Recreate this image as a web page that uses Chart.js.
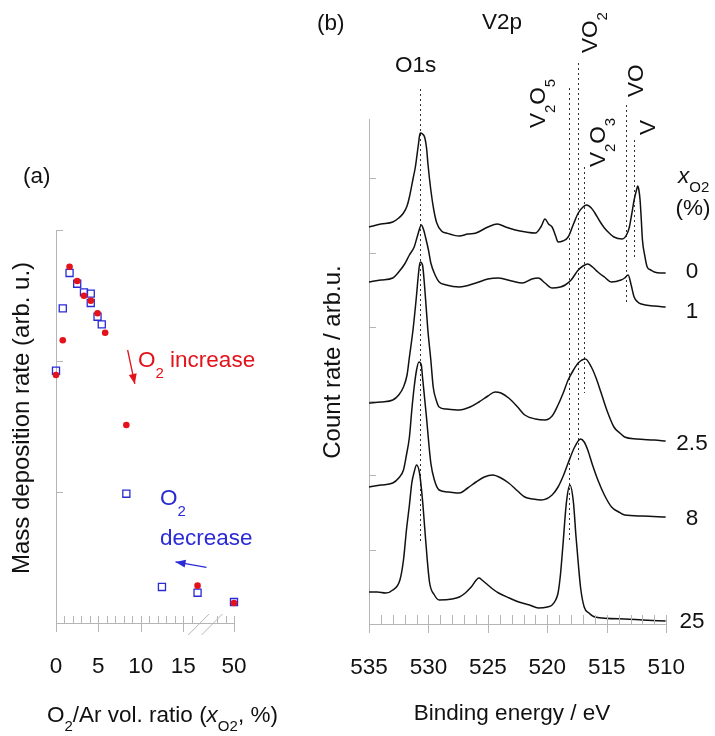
<!DOCTYPE html>
<html><head><meta charset="utf-8">
<script src="https://cdn.jsdelivr.net/npm/chart.js@4.4.1/dist/chart.umd.min.js"></script>
<style>
html,body{margin:0;padding:0;background:#fff;width:715px;height:736px;overflow:hidden}
canvas{position:absolute;top:0}
</style></head>
<body>
<canvas id="ca" width="300" height="736" style="left:0px"></canvas>
<canvas id="cb" width="415" height="736" style="left:300px"></canvas>
<script>
// ---------- panel (a): mass deposition rate ----------
const incX = [0, 0.8, 1.6, 2.5, 3.3, 4.1, 4.9, 5.8, 8.3, 16.7, 21];
const incY = [1.893, 2.158, 2.72, 2.611, 2.498, 2.46, 2.364, 2.216, 1.511, 0.285, 0.153];
const decX = [0, 0.8, 1.6, 2.5, 3.3, 4.1, 4.1, 4.9, 5.4, 8.3, 12.5, 16.7, 21];
const decY = [1.926, 2.402, 2.672, 2.590, 2.524, 2.514, 2.443, 2.338, 2.28, 0.987, 0.275, 0.231, 0.160];
const aTickValues = [0, 5, 10, 15, 21];
const aTickLabels = ['0', '5', '10', '15', '50'];
const aMinorTicks = [0,1,2,3,4,5,6,7,8,9,10,11,12,13,14,15,16,19,20,21];
const aYTicks = [1, 2, 3];

// ---------- panel (b): XPS spectra [binding energy eV, count rate arb.u.] ----------
const spec0 = [[535.0,397],[534.0,400],[533.0,402],[532.5,406],[532.1,411],[531.8,418],[531.6,427],[531.3,445],[531.1,457],[530.85,479],[530.7,491],[530.5,490],[530.3,486],[530.15,475],[530.05,461],[529.8,434],[529.55,414],[529.3,401],[528.9,393],[528.5,391],[527.4,388],[526.7,390],[526.0,391],[525.0,397],[524.2,400],[523.5,397],[522.7,394],[521.8,392],[521.0,391],[520.5,398],[520.2,405],[519.9,400],[519.6,397],[519.3,388],[519.1,382],[518.7,383],[518.25,387],[517.8,400],[517.4,411],[517.0,417],[516.7,419],[516.3,416],[516.0,411],[515.6,403],[515.2,396],[514.8,391],[514.4,387],[513.7,385],[513.3,390],[513.1,397],[512.9,410],[512.7,424],[512.5,434],[512.4,438],[512.3,434],[512.2,424],[512.1,405],[512.0,384],[511.8,368],[511.6,357],[511.3,354],[511.0,352],[510.5,351],[510.05,351]];
const spec1 = [[535.0,342],[534.0,344],[533.0,346],[532.5,352],[532.0,360],[531.6,369],[531.2,377],[530.9,389],[530.6,399],[530.4,394],[530.25,387],[530.0,374],[529.8,361],[529.4,348],[529.1,342],[528.5,339],[527.4,337],[526.0,341],[525.0,345],[524.1,346],[523.0,343],[522.1,341],[521.3,345],[520.75,346],[520.2,341],[519.6,336],[518.9,337],[518.5,339],[518.0,344],[517.4,354],[517.0,358],[516.6,360],[516.2,357],[515.75,352],[515.2,347],[514.6,342],[513.8,344],[513.5,346],[513.2,349],[512.95,339],[512.7,327],[512.4,322],[512.1,320],[511.0,318],[510.05,317]];
const spec25 = [[535.0,221],[534.0,222],[533.0,224],[532.5,229],[532.1,237],[531.8,249],[531.6,267],[531.3,294],[531.0,329],[530.85,349],[530.7,362],[530.5,359],[530.3,334],[530.05,294],[529.8,264],[529.6,237],[529.35,224],[529.1,217],[528.5,215],[527.4,214],[526.5,217],[525.75,222],[525.0,228],[524.4,232],[523.9,231],[523.25,226],[522.5,217],[521.9,209],[521.0,205],[520.2,204],[519.6,208],[519.1,219],[518.7,230],[518.25,244],[517.8,254],[517.4,261],[516.8,265],[516.3,257],[515.9,246],[515.5,232],[515.0,214],[514.4,197],[513.9,191],[513.5,187],[512.5,185],[511.0,184],[510.05,183]];
const spec8 = [[535.0,137],[534.0,139],[533.0,141],[532.5,146],[532.1,154],[531.85,169],[531.6,187],[531.4,214],[531.2,237],[531.0,254],[530.8,262],[530.6,259],[530.5,247],[530.2,211],[529.8,161],[529.5,144],[529.1,134],[528.3,132],[527.4,131],[526.7,136],[526.0,142],[525.3,147],[524.6,149],[523.9,146],[523.25,141],[522.5,133],[521.9,127],[521.2,125],[520.5,124],[519.6,129],[519.1,137],[518.7,147],[518.25,161],[517.7,177],[517.2,185],[516.9,182],[516.6,174],[516.2,159],[515.75,144],[515.2,129],[514.6,117],[514.0,112],[513.5,109],[512.0,108],[510.05,107]];
const spec250 = [[535.0,32],[534.3,32],[533.6,31],[533.0,34],[532.4,44],[532.1,64],[531.85,94],[531.6,119],[531.4,141],[531.2,152],[531.0,159],[530.75,151],[530.5,124],[530.3,94],[530.1,64],[529.9,41],[529.5,29],[529.1,24],[528.0,25],[527.4,27],[526.9,31],[526.4,37],[525.75,46],[525.5,44],[525.2,41],[524.6,35],[524.1,31],[523.2,26],[522.4,22],[521.5,19],[520.75,16],[520.0,17],[519.6,19],[519.3,24],[519.1,31],[518.9,49],[518.7,77],[518.4,121],[518.1,139],[517.8,121],[517.6,89],[517.4,61],[517.2,36],[516.9,17],[516.5,11],[516.0,7],[513.5,5],[512.0,4],[510.05,3]];
const seriesLabels = ['0', '1', '2.5', '8', '25'];
const bTickValues = [535, 530, 525, 520, 515, 510];
const bYTicks = [74.3, 148.6, 222.9, 297.2, 371.5, 445.8];
// reference energies of the dotted marker lines [E, top, bottom] in axis units
const refNames = ['O1s', 'V2O5', 'VO2', 'V2O3', 'VO', 'V'];
const refE = [530.7, 518.2, 517.45, 516.95, 513.35, 512.75];
const refTop = [535, 536, 561, 457, 519, 484];
const refBottom = [81, 84, 162, 231, 322, 367];

// ---------- styling ----------
const FONT = '"Liberation Sans", Arial, Helvetica, sans-serif';
const AXIS = '#b5b5b5';
const INK = '#111111';
const RED = '#e3121b';
const BLUE = '#2a2ad6';
const FS = 22.5;

function rich(ctx, parts, x, y, o) {
  o = o || {};
  const size = o.size || FS, sub = o.sub || 15, dy = (o.dy === undefined ? 10 : o.dy);
  ctx.save();
  ctx.translate(x, y);
  if (o.rot) ctx.rotate(o.rot);
  ctx.fillStyle = o.color || INK;
  ctx.textAlign = 'left';
  ctx.textBaseline = 'alphabetic';
  const fonts = parts.map(p => (p.it ? 'italic ' : '') + (p.s ? sub : size) + 'px ' + FONT);
  let total = 0;
  parts.forEach((p, i) => { ctx.font = fonts[i]; total += ctx.measureText(p.t).width; });
  let cx = o.align === 'center' ? -total / 2 : (o.align === 'right' ? -total : 0);
  parts.forEach((p, i) => { ctx.font = fonts[i]; ctx.fillText(p.t, cx, p.s ? dy : 0); cx += ctx.measureText(p.t).width; });
  ctx.restore();
}
function seg(ctx, x1, y1, x2, y2, color, w, dash) {
  ctx.save();
  ctx.strokeStyle = color; ctx.lineWidth = w || 1;
  ctx.setLineDash(dash || []);
  ctx.beginPath(); ctx.moveTo(x1, y1); ctx.lineTo(x2, y2); ctx.stroke();
  ctx.restore();
}
function arrow(ctx, x1, y1, x2, y2, color) {
  seg(ctx, x1, y1, x2, y2, color, 1.3);
  const a = Math.atan2(y2 - y1, x2 - x1), L = 10, W = 4;
  ctx.save();
  ctx.fillStyle = color;
  ctx.beginPath();
  ctx.moveTo(x2, y2);
  ctx.lineTo(x2 - L * Math.cos(a) + W * Math.sin(a), y2 - L * Math.sin(a) - W * Math.cos(a));
  ctx.lineTo(x2 - L * Math.cos(a) - W * Math.sin(a), y2 - L * Math.sin(a) + W * Math.cos(a));
  ctx.closePath(); ctx.fill();
  ctx.restore();
}
const px = v => Math.round(v) + 0.5;

// ---------- chart (a) ----------
const annotA = {
  id: 'annotA',
  afterDraw(chart) {
    const { ctx, chartArea: ca } = chart;
    const x = chart.scales.x, y = chart.scales.y;
    aYTicks.forEach(v => { const p = px(y.getPixelForValue(v)); seg(ctx, ca.left, p, ca.left + 7, p, AXIS, 1); });
    aMinorTicks.forEach(v => { const p = px(x.getPixelForValue(v)); seg(ctx, p, ca.bottom - 7, p, ca.bottom, AXIS, 1); });
    aTickValues.forEach(v => { const p = px(x.getPixelForValue(v)); seg(ctx, p, ca.bottom - 7, p, ca.bottom + 9, AXIS, 1); });
    [[15.6, 18.06], [17.17, 19.64]].forEach(b => seg(ctx, x.getPixelForValue(b[0]), ca.bottom + 12, x.getPixelForValue(b[1]), ca.bottom - 9, AXIS, 1));
    rich(ctx, [{ t: '(a)' }], 23, 183);
    rich(ctx, [{ t: 'Mass deposition rate (arb. u.)' }], 29, 418, { rot: -Math.PI / 2, align: 'center', size: 24 });
    rich(ctx, [{ t: 'O' }, { t: '2', s: 1 }, { t: '/Ar vol. ratio (' }, { t: 'x', it: 1 }, { t: 'O2', s: 1 }, { t: ', %)' }], 47, 722, { dy: 9 });
    rich(ctx, [{ t: 'O' }, { t: '2', s: 1 }, { t: ' increase' }], 138, 367, { color: RED, dy: 11 });
    rich(ctx, [{ t: 'O' }, { t: '2', s: 1 }], 160, 505, { color: BLUE, dy: 11 });
    rich(ctx, [{ t: 'decrease' }], 160, 545, { color: BLUE });
    arrow(ctx, x.getPixelForValue(8.45), y.getPixelForValue(2.084), x.getPixelForValue(9.3), y.getPixelForValue(1.825), RED);
    arrow(ctx, x.getPixelForValue(17.75), y.getPixelForValue(0.425), x.getPixelForValue(14.1), y.getPixelForValue(0.466), BLUE);
  }
};

new Chart(document.getElementById('ca'), {
  type: 'scatter',
  data: {
    datasets: [
      { label: 'O2 decrease', data: decX.map((v, i) => ({ x: v, y: decY[i] })), pointStyle: 'rect', pointRadius: 5,
        borderColor: BLUE, backgroundColor: 'rgba(0,0,0,0)', pointBorderWidth: 1.3, order: 1, clip: false },
      { label: 'O2 increase', data: incX.map((v, i) => ({ x: v, y: incY[i] })), pointStyle: 'circle', pointRadius: 3.3,
        borderColor: RED, backgroundColor: RED, pointBorderWidth: 0, order: 0, clip: false }
    ]
  },
  options: {
    responsive: false, animation: false, devicePixelRatio: 1,
    layout: { padding: { left: 0, right: 66, top: 230, bottom: 0 } },
    plugins: { legend: { display: false }, tooltip: { enabled: false } },
    scales: {
      x: {
        type: 'linear', min: 0, max: 21,
        afterFit: s => { s.height = 113; },
        afterBuildTicks: s => { s.ticks = aTickValues.map(v => ({ value: v })); },
        ticks: { callback: v => aTickLabels[aTickValues.indexOf(v)], font: { family: FONT, size: FS }, color: INK,
                 padding: 30, maxRotation: 0, autoSkip: false },
        grid: { drawOnChartArea: false, drawTicks: false },
        border: { display: true, color: AXIS, width: 1 }
      },
      y: {
        type: 'linear', min: 0, max: 3,
        afterFit: s => { s.width = 56; },
        ticks: { display: false },
        grid: { drawOnChartArea: false, drawTicks: false },
        border: { display: true, color: AXIS, width: 1 }
      }
    }
  },
  plugins: [annotA]
});

// ---------- chart (b) ----------
const annotB = {
  id: 'annotB',
  beforeDatasetsDraw(chart) {
    const { ctx } = chart;
    const x = chart.scales.x, y = chart.scales.y;
    refE.forEach((e, i) => {
      const p = px(x.getPixelForValue(e));
      seg(ctx, p, y.getPixelForValue(refTop[i]), p, y.getPixelForValue(refBottom[i]), '#333', 1, [2, 3]);
    });
  },
  afterDraw(chart) {
    const { ctx, chartArea: ca } = chart;
    const x = chart.scales.x, y = chart.scales.y;
    bYTicks.forEach(v => { const p = px(y.getPixelForValue(v)); seg(ctx, ca.left, p, ca.left + 7, p, AXIS, 1); });
    for (let e = 510; e <= 535; e++) {
      const p = px(x.getPixelForValue(e));
      if (e % 5 === 0) seg(ctx, p, ca.bottom - 9, p, ca.bottom + 9, AXIS, 1);
      else seg(ctx, p, ca.bottom - 9, p, ca.bottom, AXIS, 1);
    }
    const R = -Math.PI / 2;
    rich(ctx, [{ t: '(b)' }], 17, 30);
    rich(ctx, [{ t: 'V2p' }], 182, 29);
    rich(ctx, [{ t: 'O1s' }], 95, 72);
    rich(ctx, [{ t: 'VO' }, { t: '2', s: 1 }], 297, 53, { rot: R });
    rich(ctx, [{ t: 'V' }, { t: '2', s: 1 }, { t: 'O' }, { t: '5', s: 1 }], 245, 128, { rot: R });
    rich(ctx, [{ t: 'V' }, { t: '2', s: 1 }, { t: 'O' }, { t: '3', s: 1 }], 305, 167, { rot: R });
    rich(ctx, [{ t: 'VO' }], 343, 97, { rot: R });
    rich(ctx, [{ t: 'V' }], 355, 135, { rot: R });
    rich(ctx, [{ t: 'x', it: 1 }, { t: 'O2', s: 1 }], 378, 183, { dy: 9 });
    rich(ctx, [{ t: '(%)' }], 393, 215, { align: 'center' });
    const labelY = [278, 318, 450, 525, 628];
    seriesLabels.forEach((s, i) => rich(ctx, [{ t: s }], 392, labelY[i], { align: 'center' }));
    rich(ctx, [{ t: 'Count rate / arb.u.' }], 40, 362, { rot: R, align: 'center', size: 24 });
    rich(ctx, [{ t: 'Binding energy / eV' }], 212, 720, { align: 'center' });
  }
};

const specs = [spec0, spec1, spec25, spec8, spec250];
new Chart(document.getElementById('cb'), {
  type: 'scatter',
  data: {
    datasets: specs.map((s, i) => ({
      label: seriesLabels[i],
      data: s.map(p => ({ x: p[0], y: p[1] })),
      showLine: true, borderColor: INK, borderWidth: 1.5, pointRadius: 0,
      cubicInterpolationMode: 'monotone', clip: false
    }))
  },
  options: {
    responsive: false, animation: false, devicePixelRatio: 1,
    layout: { padding: { left: 0, right: 46, top: 119, bottom: 0 } },
    plugins: { legend: { display: false }, tooltip: { enabled: false } },
    scales: {
      x: {
        type: 'linear', min: 510, max: 535, reverse: true,
        afterFit: s => { s.height = 112; },
        afterBuildTicks: s => { s.ticks = bTickValues.map(v => ({ value: v })); },
        ticks: { callback: v => String(v), font: { family: FONT, size: FS }, color: INK, padding: 30, maxRotation: 0, autoSkip: false },
        grid: { drawOnChartArea: false, drawTicks: false },
        border: { display: true, color: AXIS, width: 1 }
      },
      y: {
        type: 'linear', min: 0, max: 505,
        afterFit: s => { s.width = 69; },
        ticks: { display: false },
        grid: { drawOnChartArea: false, drawTicks: false },
        border: { display: true, color: AXIS, width: 1 }
      }
    }
  },
  plugins: [annotB]
});
</script>
</body></html>
